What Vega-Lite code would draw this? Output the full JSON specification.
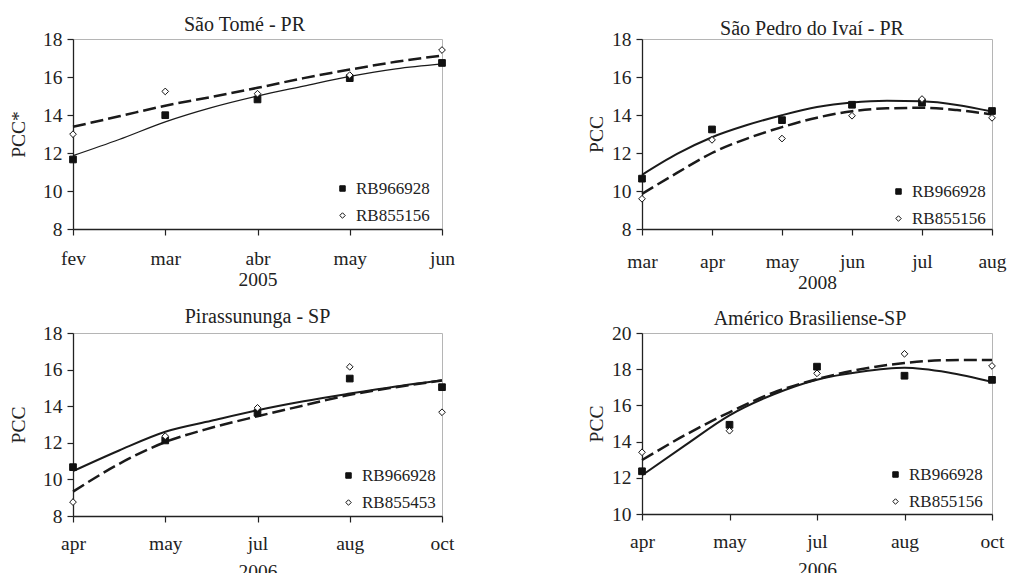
{
  "$schema": "https://vega.github.io/schema/vega-lite/v6.json",
  "background": "white",
  "padding": {"left": 8, "top": 14, "right": 0, "bottom": 0},
  "columns": 2,
  "bounds": "flush",
  "spacing": {"row": 104, "column": 200},
  "datasets": {
    "pts": [
      {"p": 1, "t": 1, "v": "RB966928", "pcc": 11.66},
      {"p": 1, "t": 2, "v": "RB966928", "pcc": 13.99},
      {"p": 1, "t": 3, "v": "RB966928", "pcc": 14.82},
      {"p": 1, "t": 4, "v": "RB966928", "pcc": 15.94},
      {"p": 1, "t": 5, "v": "RB966928", "pcc": 16.74},
      {"p": 1, "t": 1, "v": "RB855156", "pcc": 12.99},
      {"p": 1, "t": 2, "v": "RB855156", "pcc": 15.24},
      {"p": 1, "t": 3, "v": "RB855156", "pcc": 15.12},
      {"p": 1, "t": 4, "v": "RB855156", "pcc": 16.1},
      {"p": 1, "t": 5, "v": "RB855156", "pcc": 17.42},
      {"p": 2, "t": 1, "v": "RB966928", "pcc": 10.65},
      {"p": 2, "t": 2, "v": "RB966928", "pcc": 13.24},
      {"p": 2, "t": 3, "v": "RB966928", "pcc": 13.73},
      {"p": 2, "t": 4, "v": "RB966928", "pcc": 14.54},
      {"p": 2, "t": 5, "v": "RB966928", "pcc": 14.65},
      {"p": 2, "t": 6, "v": "RB966928", "pcc": 14.21},
      {"p": 2, "t": 1, "v": "RB855156", "pcc": 9.59},
      {"p": 2, "t": 2, "v": "RB855156", "pcc": 12.69},
      {"p": 2, "t": 3, "v": "RB855156", "pcc": 12.76},
      {"p": 2, "t": 4, "v": "RB855156", "pcc": 13.96},
      {"p": 2, "t": 5, "v": "RB855156", "pcc": 14.84},
      {"p": 2, "t": 6, "v": "RB855156", "pcc": 13.85},
      {"p": 3, "t": 1, "v": "RB966928", "pcc": 10.67},
      {"p": 3, "t": 2, "v": "RB966928", "pcc": 12.13},
      {"p": 3, "t": 3, "v": "RB966928", "pcc": 13.64},
      {"p": 3, "t": 4, "v": "RB966928", "pcc": 15.51},
      {"p": 3, "t": 5, "v": "RB966928", "pcc": 15.04},
      {"p": 3, "t": 1, "v": "RB855453", "pcc": 8.76},
      {"p": 3, "t": 2, "v": "RB855453", "pcc": 12.36},
      {"p": 3, "t": 3, "v": "RB855453", "pcc": 13.91},
      {"p": 3, "t": 4, "v": "RB855453", "pcc": 16.15},
      {"p": 3, "t": 5, "v": "RB855453", "pcc": 13.67},
      {"p": 4, "t": 1, "v": "RB966928", "pcc": 12.36},
      {"p": 4, "t": 2, "v": "RB966928", "pcc": 14.93},
      {"p": 4, "t": 3, "v": "RB966928", "pcc": 18.14},
      {"p": 4, "t": 4, "v": "RB966928", "pcc": 17.64},
      {"p": 4, "t": 5, "v": "RB966928", "pcc": 17.41},
      {"p": 4, "t": 1, "v": "RB855156", "pcc": 13.41},
      {"p": 4, "t": 2, "v": "RB855156", "pcc": 14.6},
      {"p": 4, "t": 3, "v": "RB855156", "pcc": 17.77},
      {"p": 4, "t": 4, "v": "RB855156", "pcc": 18.85},
      {"p": 4, "t": 5, "v": "RB855156", "pcc": 18.18}
    ],
    "fit": [
      {"p": 1, "t": 1, "s": "solid", "pcc": 11.86},
      {"p": 1, "t": 1.5, "s": "solid", "pcc": 12.71},
      {"p": 1, "t": 2, "s": "solid", "pcc": 13.64},
      {"p": 1, "t": 2.5, "s": "solid", "pcc": 14.39},
      {"p": 1, "t": 3, "s": "solid", "pcc": 15.0},
      {"p": 1, "t": 3.5, "s": "solid", "pcc": 15.52},
      {"p": 1, "t": 4, "s": "solid", "pcc": 16.03},
      {"p": 1, "t": 4.5, "s": "solid", "pcc": 16.43},
      {"p": 1, "t": 5, "s": "solid", "pcc": 16.69},
      {"p": 1, "t": 1, "s": "dash", "pcc": 13.38},
      {"p": 1, "t": 1.5, "s": "dash", "pcc": 13.93},
      {"p": 1, "t": 2, "s": "dash", "pcc": 14.49},
      {"p": 1, "t": 2.5, "s": "dash", "pcc": 14.95},
      {"p": 1, "t": 3, "s": "dash", "pcc": 15.43},
      {"p": 1, "t": 3.5, "s": "dash", "pcc": 15.94},
      {"p": 1, "t": 4, "s": "dash", "pcc": 16.39},
      {"p": 1, "t": 4.5, "s": "dash", "pcc": 16.8},
      {"p": 1, "t": 5, "s": "dash", "pcc": 17.13},
      {"p": 2, "t": 1, "s": "solid", "pcc": 10.85},
      {"p": 2, "t": 1.5, "s": "solid", "pcc": 11.95},
      {"p": 2, "t": 2, "s": "solid", "pcc": 12.83},
      {"p": 2, "t": 2.5, "s": "solid", "pcc": 13.47},
      {"p": 2, "t": 3, "s": "solid", "pcc": 13.99},
      {"p": 2, "t": 3.5, "s": "solid", "pcc": 14.42},
      {"p": 2, "t": 4, "s": "solid", "pcc": 14.66},
      {"p": 2, "t": 4.5, "s": "solid", "pcc": 14.75},
      {"p": 2, "t": 5, "s": "solid", "pcc": 14.72},
      {"p": 2, "t": 5.5, "s": "solid", "pcc": 14.53},
      {"p": 2, "t": 6, "s": "solid", "pcc": 14.18},
      {"p": 2, "t": 1, "s": "dash", "pcc": 9.85},
      {"p": 2, "t": 1.5, "s": "dash", "pcc": 10.95},
      {"p": 2, "t": 2, "s": "dash", "pcc": 12.0},
      {"p": 2, "t": 2.5, "s": "dash", "pcc": 12.76},
      {"p": 2, "t": 3, "s": "dash", "pcc": 13.36},
      {"p": 2, "t": 3.5, "s": "dash", "pcc": 13.86},
      {"p": 2, "t": 4, "s": "dash", "pcc": 14.2},
      {"p": 2, "t": 4.5, "s": "dash", "pcc": 14.35},
      {"p": 2, "t": 5, "s": "dash", "pcc": 14.38},
      {"p": 2, "t": 5.5, "s": "dash", "pcc": 14.26},
      {"p": 2, "t": 6, "s": "dash", "pcc": 14.03},
      {"p": 3, "t": 1, "s": "solid", "pcc": 10.45},
      {"p": 3, "t": 1.5, "s": "solid", "pcc": 11.58},
      {"p": 3, "t": 2, "s": "solid", "pcc": 12.6},
      {"p": 3, "t": 2.5, "s": "solid", "pcc": 13.2},
      {"p": 3, "t": 3, "s": "solid", "pcc": 13.78},
      {"p": 3, "t": 3.5, "s": "solid", "pcc": 14.27},
      {"p": 3, "t": 4, "s": "solid", "pcc": 14.69},
      {"p": 3, "t": 4.5, "s": "solid", "pcc": 15.08},
      {"p": 3, "t": 5, "s": "solid", "pcc": 15.42},
      {"p": 3, "t": 1, "s": "dash", "pcc": 9.33},
      {"p": 3, "t": 1.5, "s": "dash", "pcc": 10.85},
      {"p": 3, "t": 2, "s": "dash", "pcc": 12.04},
      {"p": 3, "t": 2.5, "s": "dash", "pcc": 12.82},
      {"p": 3, "t": 3, "s": "dash", "pcc": 13.45},
      {"p": 3, "t": 3.5, "s": "dash", "pcc": 14.04},
      {"p": 3, "t": 4, "s": "dash", "pcc": 14.62},
      {"p": 3, "t": 4.5, "s": "dash", "pcc": 15.04},
      {"p": 3, "t": 5, "s": "dash", "pcc": 15.4},
      {"p": 4, "t": 1, "s": "solid", "pcc": 12.14},
      {"p": 4, "t": 1.5, "s": "solid", "pcc": 13.82},
      {"p": 4, "t": 2, "s": "solid", "pcc": 15.45},
      {"p": 4, "t": 2.5, "s": "solid", "pcc": 16.6},
      {"p": 4, "t": 3, "s": "solid", "pcc": 17.42},
      {"p": 4, "t": 3.5, "s": "solid", "pcc": 17.86},
      {"p": 4, "t": 4, "s": "solid", "pcc": 18.08},
      {"p": 4, "t": 4.5, "s": "solid", "pcc": 17.82},
      {"p": 4, "t": 5, "s": "solid", "pcc": 17.3},
      {"p": 4, "t": 1, "s": "dash", "pcc": 12.98},
      {"p": 4, "t": 1.5, "s": "dash", "pcc": 14.38},
      {"p": 4, "t": 2, "s": "dash", "pcc": 15.62},
      {"p": 4, "t": 2.5, "s": "dash", "pcc": 16.7},
      {"p": 4, "t": 3, "s": "dash", "pcc": 17.45},
      {"p": 4, "t": 3.5, "s": "dash", "pcc": 18.0},
      {"p": 4, "t": 4, "s": "dash", "pcc": 18.34},
      {"p": 4, "t": 4.5, "s": "dash", "pcc": 18.5},
      {"p": 4, "t": 5, "s": "dash", "pcc": 18.51}
    ]
  },
  "resolve": {
    "scale": {"shape": "independent", "fill": "independent", "stroke": "independent", "x": "independent", "y": "independent"},
    "legend": {"shape": "independent", "fill": "independent", "stroke": "independent"}
  },
  "concat": [
    {
      "width": 369, "height": 190,
      "title": {"text": "São Tomé - PR", "dx": -13, "offset": -6},
      "encoding": {
        "x": {"field": "t", "type": "quantitative", "scale": {"domain": [1, 5], "nice": false, "zero": false},
              "axis": {"values": [1, 2, 3, 4, 5], "labelOverlap": false, "labelExpr": "['fev','mar','abr','may','jun'][datum.value-1]", "title": "2005", "titleY": 56}},
        "y": {"field": "pcc", "type": "quantitative", "scale": {"domain": [8, 18], "nice": false, "zero": false},
              "axis": {"values": [8, 10, 12, 14, 16, 18], "labelOverlap": false, "title": "PCC*", "titlePadding": 14}}
      },
      "layer": [
        {"data": {"name": "fit"}, "transform": [{"filter": "datum.p == 1 && datum.s == 'solid'"}],
         "mark": {"type": "line", "color": "#1a1a1a", "strokeWidth": 1.3, "interpolate": "monotone"}},
        {"data": {"name": "fit"}, "transform": [{"filter": "datum.p == 1 && datum.s == 'dash'"}],
         "mark": {"type": "line", "color": "#1a1a1a", "strokeWidth": 2.5, "strokeDash": [13, 5], "interpolate": "monotone"}},
        {"data": {"name": "pts"}, "transform": [{"filter": "datum.p == 1"}],
         "mark": {"type": "point", "filled": true, "strokeWidth": 1, "size": 45, "opacity": 1},
         "encoding": {
           "shape": {"field": "v", "type": "nominal", "scale": {"domain": ["RB966928", "RB855156"], "range": ["square", "diamond"]},
                     "legend": {"orient": "none", "legendX": 261, "legendY": 141}},
           "fill": {"field": "v", "type": "nominal", "scale": {"domain": ["RB966928", "RB855156"], "range": ["#111111", "#ffffff"]},
                    "legend": {"orient": "none", "legendX": 261, "legendY": 141}},
           "stroke": {"field": "v", "type": "nominal", "scale": {"domain": ["RB966928", "RB855156"], "range": ["#111111", "#111111"]},
                    "legend": {"orient": "none", "legendX": 261, "legendY": 141}}
         }}
      ]
    },
    {
      "width": 350, "height": 190,
      "title": {"text": "São Pedro do Ivaí - PR", "dx": -5, "offset": -10},
      "encoding": {
        "x": {"field": "t", "type": "quantitative", "scale": {"domain": [1, 6], "nice": false, "zero": false},
              "axis": {"values": [1, 2, 3, 4, 5, 6], "labelOverlap": false, "labelExpr": "['mar','apr','may','jun','jul','aug'][datum.value-1]", "title": "2008", "titleY": 59, "labelPadding": 32}},
        "y": {"field": "pcc", "type": "quantitative", "scale": {"domain": [8, 18], "nice": false, "zero": false},
              "axis": {"values": [8, 10, 12, 14, 16, 18], "labelOverlap": false, "title": "PCC", "titlePadding": 5}}
      },
      "layer": [
        {"data": {"name": "fit"}, "transform": [{"filter": "datum.p == 2 && datum.s == 'solid'"}],
         "mark": {"type": "line", "color": "#1a1a1a", "strokeWidth": 2, "interpolate": "monotone"}},
        {"data": {"name": "fit"}, "transform": [{"filter": "datum.p == 2 && datum.s == 'dash'"}],
         "mark": {"type": "line", "color": "#1a1a1a", "strokeWidth": 2.5, "strokeDash": [13, 5], "interpolate": "monotone"}},
        {"data": {"name": "pts"}, "transform": [{"filter": "datum.p == 2"}],
         "mark": {"type": "point", "filled": true, "strokeWidth": 1, "size": 45, "opacity": 1},
         "encoding": {
           "shape": {"field": "v", "type": "nominal", "scale": {"domain": ["RB966928", "RB855156"], "range": ["square", "diamond"]},
                     "legend": {"orient": "none", "legendX": 248, "legendY": 144}},
           "fill": {"field": "v", "type": "nominal", "scale": {"domain": ["RB966928", "RB855156"], "range": ["#111111", "#ffffff"]},
                    "legend": {"orient": "none", "legendX": 248, "legendY": 144}},
           "stroke": {"field": "v", "type": "nominal", "scale": {"domain": ["RB966928", "RB855156"], "range": ["#111111", "#111111"]},
                    "legend": {"orient": "none", "legendX": 248, "legendY": 144}}
         }}
      ]
    },
    {
      "width": 369, "height": 183,
      "title": {"text": "Pirassununga - SP", "dx": 0, "offset": -4},
      "encoding": {
        "x": {"field": "t", "type": "quantitative", "scale": {"domain": [1, 5], "nice": false, "zero": false},
              "axis": {"values": [1, 2, 3, 4, 5], "labelOverlap": false, "labelExpr": "['apr','may','jul','aug','oct'][datum.value-1]", "title": "2006", "titleY": 61, "labelPadding": 27}},
        "y": {"field": "pcc", "type": "quantitative", "scale": {"domain": [8, 18], "nice": false, "zero": false},
              "axis": {"values": [8, 10, 12, 14, 16, 18], "labelOverlap": false, "title": "PCC", "titlePadding": 14}}
      },
      "layer": [
        {"data": {"name": "fit"}, "transform": [{"filter": "datum.p == 3 && datum.s == 'solid'"}],
         "mark": {"type": "line", "color": "#1a1a1a", "strokeWidth": 2, "interpolate": "monotone"}},
        {"data": {"name": "fit"}, "transform": [{"filter": "datum.p == 3 && datum.s == 'dash'"}],
         "mark": {"type": "line", "color": "#1a1a1a", "strokeWidth": 2.5, "strokeDash": [13, 5], "interpolate": "monotone"}},
        {"data": {"name": "pts"}, "transform": [{"filter": "datum.p == 3"}],
         "mark": {"type": "point", "filled": true, "strokeWidth": 1, "size": 45, "opacity": 1},
         "encoding": {
           "shape": {"field": "v", "type": "nominal", "scale": {"domain": ["RB966928", "RB855453"], "range": ["square", "diamond"]},
                     "legend": {"orient": "none", "legendX": 267, "legendY": 134}},
           "fill": {"field": "v", "type": "nominal", "scale": {"domain": ["RB966928", "RB855453"], "range": ["#111111", "#ffffff"]},
                    "legend": {"orient": "none", "legendX": 267, "legendY": 134}},
           "stroke": {"field": "v", "type": "nominal", "scale": {"domain": ["RB966928", "RB855453"], "range": ["#111111", "#111111"]},
                    "legend": {"orient": "none", "legendX": 267, "legendY": 134}}
         }}
      ]
    },
    {
      "width": 350, "height": 181,
      "title": {"text": "Américo Brasiliense-SP", "dx": -7, "offset": -6},
      "encoding": {
        "x": {"field": "t", "type": "quantitative", "scale": {"domain": [1, 5], "nice": false, "zero": false},
              "axis": {"values": [1, 2, 3, 4, 5], "labelOverlap": false, "labelExpr": "['apr','may','jul','aug','oct'][datum.value-1]", "title": "2006", "titleY": 61, "labelPadding": 27}},
        "y": {"field": "pcc", "type": "quantitative", "scale": {"domain": [10, 20], "nice": false, "zero": false},
              "axis": {"values": [10, 12, 14, 16, 18, 20], "labelOverlap": false, "title": "PCC", "titlePadding": 5}}
      },
      "layer": [
        {"data": {"name": "fit"}, "transform": [{"filter": "datum.p == 4 && datum.s == 'solid'"}],
         "mark": {"type": "line", "color": "#1a1a1a", "strokeWidth": 2, "interpolate": "monotone"}},
        {"data": {"name": "fit"}, "transform": [{"filter": "datum.p == 4 && datum.s == 'dash'"}],
         "mark": {"type": "line", "color": "#1a1a1a", "strokeWidth": 2.5, "strokeDash": [13, 5], "interpolate": "monotone"}},
        {"data": {"name": "pts"}, "transform": [{"filter": "datum.p == 4"}],
         "mark": {"type": "point", "filled": true, "strokeWidth": 1, "size": 45, "opacity": 1},
         "encoding": {
           "shape": {"field": "v", "type": "nominal", "scale": {"domain": ["RB966928", "RB855156"], "range": ["square", "diamond"]},
                     "legend": {"orient": "none", "legendX": 245, "legendY": 133}},
           "fill": {"field": "v", "type": "nominal", "scale": {"domain": ["RB966928", "RB855156"], "range": ["#111111", "#ffffff"]},
                    "legend": {"orient": "none", "legendX": 245, "legendY": 133}},
           "stroke": {"field": "v", "type": "nominal", "scale": {"domain": ["RB966928", "RB855156"], "range": ["#111111", "#111111"]},
                    "legend": {"orient": "none", "legendX": 245, "legendY": 133}}
         }}
      ]
    }
  ],
  "config": {
    "font": "Liberation Serif, Times New Roman, DejaVu Serif, serif",
    "view": {"stroke": "#b5b5b5", "strokeWidth": 1},
    "title": {"font": "Liberation Serif, Times New Roman, DejaVu Serif, serif", "fontSize": 20, "fontWeight": "normal", "color": "#222", "anchor": "middle", "baseline": "alphabetic", "frame": "group"},
    "axis": {
      "grid": false,
      "domainColor": "#222", "domainWidth": 1.3,
      "tickColor": "#222", "tickSize": 6, "tickWidth": 1.2,
      "labelFont": "Liberation Serif, Times New Roman, DejaVu Serif, serif", "labelFontSize": 19.5, "labelColor": "#222",
      "titleFont": "Liberation Serif, Times New Roman, DejaVu Serif, serif", "titleFontSize": 19.5, "titleFontWeight": "normal", "titleColor": "#222"
    },
    "axisX": {"labelBaseline": "alphabetic", "labelPadding": 29, "titleBaseline": "alphabetic", "labelFlush": false},
    "axisY": {"labelPadding": 5, "labelBaseline": "middle"},
    "legend": {
      "title": null, "labelFont": "Liberation Serif, Times New Roman, DejaVu Serif, serif", "labelFontSize": 17, "labelColor": "#222",
      "symbolSize": 30, "symbolStrokeColor": "#111", "symbolStrokeWidth": 1, "rowPadding": 9,
      "padding": 0, "labelOffset": 5, "symbolOpacity": 1
    }
  }
}
